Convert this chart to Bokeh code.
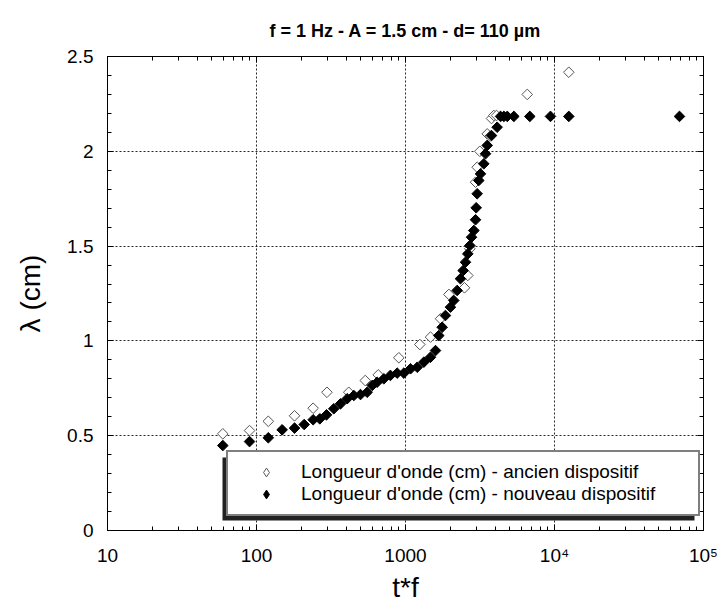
import math
from bokeh.plotting import figure
from bokeh.models import (LogAxis, LinearAxis, FixedTicker, Legend, LegendItem,
                          BoxAnnotation, ColumnDataSource)
from bokeh.embed import file_html
from bokeh.resources import INLINE

# ---------------- data ----------------
ancien_t = [59.4, 89.8, 120, 180, 240, 297, 416, 537, 656, 902, 1248, 1472,
            1718, 1955, 2489, 2619, 2702, 2873, 2951, 3027, 3153, 3535, 3700,
            3777, 3918, 4083, 6561, 12470]
ancien_lambda = [0.51, 0.527, 0.576, 0.605, 0.645, 0.729, 0.729, 0.791, 0.821,
                 0.911, 0.981, 1.02, 1.117, 1.245, 1.28, 1.345, 1.486, 1.582,
                 1.837, 1.916, 2.0, 2.092, 2.08, 2.173, 2.189, 2.189, 2.3, 2.417]

nouveau_t = [59.4, 89.8, 120, 148.6, 180, 209, 240, 266, 295, 330, 366, 406,
             450, 499, 553, 598, 645, 715, 792, 879, 975, 1081, 1199, 1328,
             1472, 1590, 1672, 1762, 1854, 2003, 2109, 2222, 2338, 2437, 2527,
             2619, 2702, 2774, 2873, 2951, 2981, 3027, 3104, 3184, 3354, 3443,
             3535, 3777, 4120, 4345, 4571, 4818, 5335, 6828, 9397, 12470, 69000]
nouveau_lambda = [0.448, 0.469, 0.489, 0.531, 0.54, 0.559, 0.584, 0.589, 0.61,
                  0.642, 0.668, 0.695, 0.712, 0.717, 0.729, 0.765, 0.782, 0.8,
                  0.818, 0.83, 0.83, 0.853, 0.861, 0.888, 0.914, 0.949, 1.028,
                  1.072, 1.134, 1.178, 1.213, 1.266, 1.328, 1.371, 1.415, 1.459,
                  1.503, 1.547, 1.582, 1.639, 1.702, 1.776, 1.846, 1.881, 1.934,
                  1.987, 2.031, 2.083, 2.127, 2.184, 2.184, 2.184, 2.184, 2.184,
                  2.184, 2.184, 2.184]

x_tick_values = [10, 100, 1000, 10000, 100000]
x_tick_labels = ["10", "100", "1000", "10\u2074", "10\u2075"]
y_tick_values = [0, 0.5, 1, 1.5, 2, 2.5]
y_tick_labels = ["0", "0.5", "1", "1.5", "2", "2.5"]

title_text = "f = 1 Hz - A = 1.5 cm - d= 110 \u00b5m"
x_title = "t*f"
y_title = "\u03bb (cm)"
label_ancien = "Longueur d'onde (cm) - ancien dispositif"
label_nouveau = "Longueur d'onde (cm) - nouveau dispositif"

FONT = "Liberation Sans"

x_minor = [m * 10 ** k for k in range(1, 5) for m in range(2, 10)]
y_minor = [i / 10 for i in range(0, 26)]

p = figure(width=720, height=608, x_axis_type="log", x_range=(10, 1e5),
           y_range=(0, 2.5), output_backend="svg", toolbar_location=None,
           min_border_left=107, min_border_right=17, min_border_top=56,
           min_border_bottom=78, x_axis_label=x_title, y_axis_label=y_title,
           title=title_text)

p.background_fill_color = "white"
p.border_fill_color = "white"
p.outline_line_color = "black"
p.outline_line_width = 1

p.title.align = "center"
p.title.text_font = FONT
p.title.text_font_size = "18px"
p.title.text_font_style = "bold"
p.title.text_color = "black"
p.title.standoff = 31

def style_axis(ax, show_labels, ticker):
    ax.ticker = ticker
    ax.axis_line_color = "black"
    ax.major_tick_in = 6
    ax.major_tick_out = 0
    ax.minor_tick_in = 4
    ax.minor_tick_out = 0
    ax.major_tick_line_color = "black"
    ax.minor_tick_line_color = "black"
    if show_labels:
        ax.major_label_text_font = FONT
        ax.major_label_text_font_size = "19px"
        ax.major_label_text_color = "black"
        ax.axis_label_text_font = FONT
        ax.axis_label_text_font_size = "28px"
        ax.axis_label_text_font_style = "normal"
        ax.axis_label_text_color = "black"
    else:
        ax.major_label_text_font_size = "2px"
        ax.major_label_text_alpha = 0
        ax.major_label_standoff = 0

xb = p.xaxis[0]
style_axis(xb, True, FixedTicker(ticks=x_tick_values, minor_ticks=x_minor))
xb.major_label_overrides = {v: s for v, s in zip(x_tick_values, x_tick_labels)}
xb.major_label_standoff = 14
xb.axis_label_standoff = 3

yl = p.yaxis[0]
style_axis(yl, True, FixedTicker(ticks=y_tick_values, minor_ticks=y_minor))
yl.major_label_overrides = {v: s for v, s in zip(y_tick_values, y_tick_labels)}
yl.major_label_standoff = 14
yl.axis_label_standoff = 18

xt = LogAxis()
style_axis(xt, False, FixedTicker(ticks=x_tick_values, minor_ticks=x_minor))
p.add_layout(xt, "above")
yr = LinearAxis()
style_axis(yr, False, FixedTicker(ticks=y_tick_values, minor_ticks=y_minor))
p.add_layout(yr, "right")

for g, vals in ((p.xgrid[0], x_tick_values), (p.ygrid[0], y_tick_values)):
    g.ticker = FixedTicker(ticks=vals)
    g.grid_line_color = "black"
    g.grid_line_alpha = 0.85
    g.grid_line_dash = "2 2"
    g.grid_line_width = 1

src_a = ColumnDataSource(dict(t=ancien_t, lam=ancien_lambda))
src_n = ColumnDataSource(dict(t=nouveau_t, lam=nouveau_lambda))

r_a = p.scatter("t", "lam", source=src_a, marker="square", size=7.5,
                angle=math.pi / 4, fill_color="white", line_color="#555555",
                line_width=1)
r_n = p.scatter("t", "lam", source=src_n, marker="square", size=7.5,
                angle=math.pi / 4, fill_color="black", line_color="black",
                line_width=1)

# legend proxies: same data, zero size on the plot, diamond glyph in legend
lg_a = p.scatter("t", "lam", source=src_a, marker="diamond", size=0,
                 fill_color="white", line_color="#555555", line_width=1)
lg_n = p.scatter("t", "lam", source=src_n, marker="diamond", size=0,
                 fill_color="black", line_color="black", line_width=1)

shadow = BoxAnnotation(left=115, right=587, bottom=10, top=73,
                       left_units="screen", right_units="screen",
                       bottom_units="screen", top_units="screen",
                       fill_color="#222222", fill_alpha=1.0, line_alpha=0)
p.add_layout(shadow)

legend = Legend(items=[LegendItem(label=label_ancien, renderers=[lg_a]),
                       LegendItem(label=label_nouveau, renderers=[lg_n])],
                location=(119, 14))
legend.border_line_color = "black"
legend.border_line_width = 2
legend.background_fill_color = "white"
legend.background_fill_alpha = 1.0
legend.padding = 9
legend.spacing = 0
legend.margin = 0
legend.glyph_width = 58
legend.glyph_height = 22
legend.label_height = 22
legend.label_standoff = 6
legend.label_width = 388
legend.label_text_font = FONT
legend.label_text_font_size = "19px"
legend.label_text_color = "black"
p.add_layout(legend)

open("out.html", "w").write(file_html(p, INLINE))
